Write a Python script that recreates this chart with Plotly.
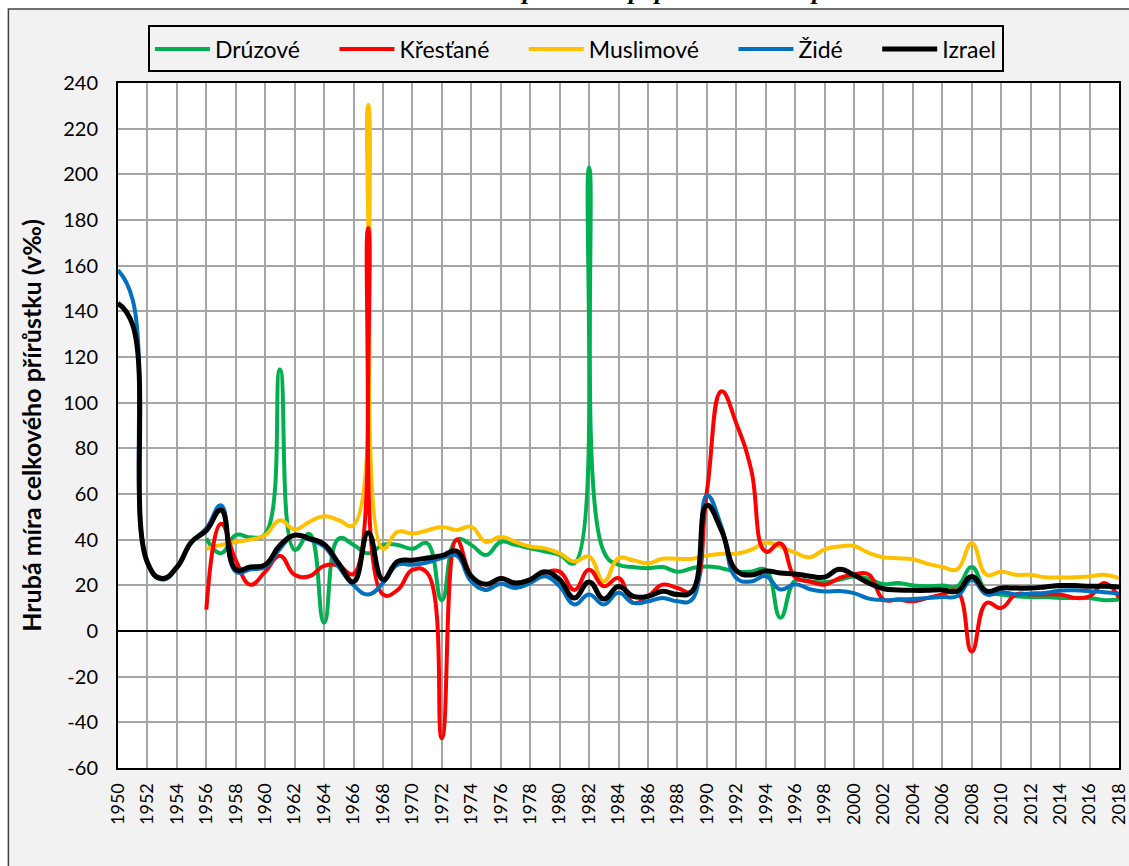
import plotly.graph_objects as go

years = list(range(1950, 2019))

# Hrubá míra celkového přírůstku (v ‰)
izrael = [143.5, 134, 30, 23, 28, 39, 44, 53, 27, 28, 29, 37.5, 42, 40.5, 38, 29.5,
          21.5, 43, 22.5, 30.5, 31, 32, 33, 35, 24, 20.5, 23, 21, 22.5, 26, 22.5,
          14.5, 21.5, 14, 19.5, 15.2, 15.2, 17.4, 16, 17.4, 55, 44, 26.5, 24.5, 26.3,
          25.4, 25, 24, 23.6, 27, 24.5, 21, 18.5, 18, 17.8, 17.8, 18, 17.4, 23.9,
          17.4, 18.8, 18.8, 18.8, 19.3, 19.9, 19.9, 19.6, 19.6, 19.3]

zide = [158, 145, 30, 22.5, 27.5, 39, 45, 55, 26, 27, 28, 36, 42, 40, 37, 28,
        20, 16, 21, 29, 29, 30, 32, 33, 21.7, 18, 20.7, 18.8, 21, 24, 19.6,
        11.6, 16, 11.6, 16.7, 12.3, 13, 14.5, 13, 13.8, 59.4, 45.6, 23.2, 21.7, 24,
        18.2, 20.5, 18.3, 17.3, 17.5, 16.6, 14.2, 13.5, 13.8, 14, 14.5, 14.9, 15.2, 22.5,
        16, 17, 16, 16.4, 16.7, 17.7, 17.8, 17.4, 17, 16.4]

druzove = [None] * 6 + [40.5, 34, 42, 41, 42.5, 114.5, 35.5, 42.5, 3.6, 40.5,
                        37.7, 34, 37.7, 37.7, 36, 38.4, 13.5, 40, 37.7, 33.3, 39, 37.7,
                        36.2, 34.8, 33.3, 29.7, 203, 34.8, 29, 28, 27.5, 28, 26, 27.5,
                        28.3, 27.5, 26, 26, 26.8, 5.8, 22, 21.7, 21.4, 22.4, 23.9, 22.8,
                        20.5, 21, 19.9, 19.6, 19.9, 19.6, 28, 17.4, 16, 15.2, 14.9, 14.9,
                        14.5, 14.5, 14.5, 13.5, 13.8]

krestane = [None] * 6 + [9.4, 47, 31, 20.3, 26, 33, 24.6, 24, 28.5, 28.5,
                         25, 176.5, 16, 18, 26.8, 25.5, -47, 40, 24, 18, 23.2, 20.3,
                         21.7, 25.4, 26, 18, 26.8, 19.6, 23.2, 12.3, 15.2, 20.3, 18.8, 17.4,
                         61, 105, 91, 71, 34.8, 38.4, 23.5, 21.7, 20.3, 23.2, 24.8, 24.8,
                         13.8, 13.8, 13, 14.5, 16, 17.4, -9, 12.3, 10.1, 16, 16, 16,
                         16, 14.5, 15.2, 21, 14.5]

muslimove = [None] * 6 + [36, 37.7, 39, 40, 42, 48.5, 44.5, 47.8, 50.3, 48.5,
                          46.4, 230.4, 36, 43.5, 42.7, 44, 45.6, 44.2, 45.6, 39, 41.3, 39,
                          37, 36.2, 34, 30.4, 32.6, 21.7, 31.9, 31, 29.7, 31.6, 31.6, 31.6,
                          33, 33.8, 33.8, 35.5, 38.7, 37, 34.3, 32.3, 35.8, 37, 37.2, 34.2,
                          32.3, 31.9, 31.4, 29.4, 28, 27, 38.4, 24.6, 26, 24.6, 24.6, 23.5,
                          23.5, 23.5, 23.9, 24.6, 23.2]

y_ticks = list(range(-60, 241, 20))
y_labels = [str(v) for v in y_ticks]  # obyčejný spojovník, ne "−"

# pořadí kreslení (zespodu nahoru) + pořadí v legendě
series = [
    ("Drúzové", druzove, "#00b050", 4, 1),
    ("Muslimové", muslimove, "#ffc000", 4, 3),
    ("Křesťané", krestane, "#ff0000", 4, 2),
    ("Židé", zide, "#0070c0", 4, 4),
    ("Izrael", izrael, "#000000", 5, 5),
]

FONT = "Lato, Carlito, Calibri, sans-serif"
GRID = "#a6a6a6"
PAD = "\u00a0" * 5  # větší mezery mezi položkami legendy

fig = go.Figure()
for name, vals, color, width, rank in series:
    fig.add_trace(go.Scatter(
        x=years, y=vals, name=name if rank == 5 else name + PAD, mode="lines",
        line=dict(color=color, width=width, shape="spline", smoothing=1.3),
        legendrank=rank, connectgaps=False,
    ))

# rámeček kolem celého grafu a bílá plocha grafu
fig.add_shape(type="rect", xref="paper", yref="paper", layer="below",
              x0=-0.1095, x1=1.03, y0=-0.17, y1=1.108,
              fillcolor="#f2f2f2", line=dict(color="#404040", width=1.5))
fig.add_shape(type="rect", xref="paper", yref="paper", layer="below",
              x0=0, x1=1, y0=0, y1=1, fillcolor="white", line=dict(width=0))

# titul, z velké části oříznutý horním okrajem
fig.add_annotation(
    text="<b><i>Hrubá míra celkového přírůstku populace Izraele podle náboženství</i></b>",
    xref="paper", yref="paper", x=0.52, y=1.1105, xanchor="center", yanchor="bottom",
    showarrow=False,
    font=dict(family="Liberation Serif, Times New Roman, serif", size=26, color="black"),
)

fig.update_layout(
    width=1129, height=866,
    margin=dict(l=118, r=10, t=83, b=98, autoexpand=False),
    paper_bgcolor="white", plot_bgcolor="white",
    font=dict(family=FONT, size=19, color="black"),
    showlegend=True,
    legend=dict(
        orientation="h", x=0.4575, xanchor="center", y=1.084, yanchor="top",
        bgcolor="#f2f2f2", bordercolor="black", borderwidth=2,
        font=dict(family=FONT, size=23, color="black"),
        itemwidth=55,
    ),
    xaxis=dict(
        range=[1950, 2018], tickmode="linear", tick0=1950, dtick=2,
        tickangle=-90, tickfont=dict(size=18), ticklabelstandoff=6,
        showgrid=True, gridcolor=GRID, gridwidth=1.5,
        showline=True, linecolor="black", linewidth=2, mirror=True,
        zeroline=False, ticks="", ticklen=0,
    ),
    yaxis=dict(
        range=[-60, 240], tickmode="array", tickvals=y_ticks, ticktext=y_labels,
        tickfont=dict(size=20), ticklabelstandoff=14,
        showgrid=True, gridcolor=GRID, gridwidth=1.5,
        showline=True, linecolor="black", linewidth=2, mirror=True,
        zeroline=True, zerolinecolor="black", zerolinewidth=2,
        title=dict(text="<b>Hrubá míra celkového přírůstku (v‰)</b>",
                   font=dict(size=25), standoff=14),
    ),
)

# stránka bez výchozího okraje <body>, aby graf začínal v levém horním rohu
fig.write_html("out.html", config={"displayModeBar": False},
               post_script="document.body.style.margin='0';")
